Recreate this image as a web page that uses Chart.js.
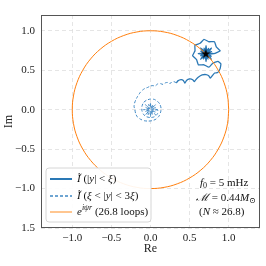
<!DOCTYPE html>
<html>
<head>
<meta charset="utf-8">
<script src="https://cdn.jsdelivr.net/npm/chart.js@4.4.0/dist/chart.umd.min.js"></script>
<style>
  body { margin: 0; background: #fff; }
</style>
</head>
<body>
<canvas id="chart" width="266" height="266"></canvas>
<script>
// Values (Re, Im pairs)

// unit circle e^{i psi r}
const circlePts = [
    [1, 0], [0.985, 0.174], [0.940, 0.342], [0.866, 0.5], [0.766, 0.643], [0.643, 0.766],
    [0.5, 0.866], [0.342, 0.940], [0.174, 0.985], [0, 1], [-0.174, 0.985], [-0.342, 0.940],
    [-0.5, 0.866], [-0.643, 0.766], [-0.766, 0.643], [-0.866, 0.5], [-0.940, 0.342], [-0.985, 0.174],
    [-1, 0], [-0.985, -0.174], [-0.940, -0.342], [-0.866, -0.5], [-0.766, -0.643], [-0.643, -0.766],
    [-0.5, -0.866], [-0.342, -0.940], [-0.174, -0.985], [0, -1], [0.174, -0.985], [0.342, -0.940],
    [0.5, -0.866], [0.643, -0.766], [0.766, -0.643], [0.866, -0.5], [0.940, -0.342], [0.985, -0.174],
    [1, 0]
];

// I~ for |y| < xi : star near (0.71, 0.71) and the scalloped trail
const innerPts = [
    [0.71, 0.71],
    [0.780, 0.736], [0.725, 0.724], [0.742, 0.778], [0.711, 0.730], [0.684, 0.780], [0.696, 0.725],
    [0.642, 0.742], [0.690, 0.711], [0.640, 0.684], [0.695, 0.696], [0.678, 0.642], [0.709, 0.690],
    [0.736, 0.640], [0.724, 0.695], [0.778, 0.678], [0.730, 0.709],
    [0.81, 0.71], [0.738, 0.721], [0.781, 0.781], [0.721, 0.738], [0.71, 0.81], [0.699, 0.738],
    [0.639, 0.781], [0.682, 0.721], [0.61, 0.71], [0.682, 0.699], [0.639, 0.639], [0.699, 0.682],
    [0.71, 0.61], [0.721, 0.682], [0.781, 0.639], [0.738, 0.699], [0.81, 0.71],
    [0.892, 0.746], [0.841, 0.796], [0.818, 0.862], [0.747, 0.861], [0.684, 0.892], [0.634, 0.841],
    [0.568, 0.818], [0.569, 0.747], [0.538, 0.684], [0.589, 0.634], [0.612, 0.568], [0.683, 0.569],
    [0.746, 0.538], [0.796, 0.589], [0.862, 0.612], [0.90, 0.58], [0.89, 0.52], [0.86, 0.47],
    [0.82, 0.465], [0.79, 0.43], [0.765, 0.40], [0.745, 0.43], [0.71, 0.445], [0.66, 0.44],
    [0.61, 0.41], [0.575, 0.375], [0.56, 0.355], [0.54, 0.38], [0.50, 0.39], [0.46, 0.37],
    [0.44, 0.335], [0.42, 0.37], [0.39, 0.38], [0.35, 0.365], [0.33, 0.34]
];

// I~ for xi < |y| < 3xi : spiral into the origin
const outerPts = [
    [0.33, 0.34], [0.30, 0.355], [0.27, 0.35], [0.25, 0.33], [0.22, 0.345], [0.19, 0.34],
    [0.16, 0.32], [0.13, 0.33], [0.09, 0.325], [0.06, 0.30], [0.03, 0.305], [0.0, 0.30],
    [-0.04, 0.28], [-0.07, 0.27], [-0.10, 0.25], [-0.13, 0.22], [-0.15, 0.19], [-0.17, 0.16],
    [-0.19, 0.12], [-0.205, 0.08], [-0.21, 0.04], [-0.20, 0.0], [-0.19, -0.05], [-0.17, -0.09],
    [-0.13, -0.12], [-0.08, -0.14], [-0.03, -0.145], [0.02, -0.14], [0.07, -0.12], [0.11, -0.08],
    [0.13, -0.03], [0.135, 0.02], [0.12, 0.07], [0.09, 0.105], [0.05, 0.13], [0.0, 0.135],
    [-0.05, 0.12], [-0.09, 0.09], [-0.11, 0.04], [-0.11, -0.01], [-0.09, -0.06], [-0.05, -0.09],
    [0.0, -0.10], [0.05, -0.09], [0.09, -0.05],
    [0.09, 0], [0.018, 0.008], [0.064, 0.064], [0.008, 0.018], [0, 0.09], [-0.008, 0.018],
    [-0.064, 0.064], [-0.018, 0.008], [-0.09, 0], [-0.018, -0.008], [-0.064, -0.064], [-0.008, -0.018],
    [0, -0.09], [0.008, -0.018], [0.064, -0.064], [0.018, -0.008], [0.09, 0],
    [0.066, 0.024], [0.015, 0.014], [0.030, 0.063], [0.001, 0.020], [-0.024, 0.066], [-0.014, 0.015],
    [-0.063, 0.030], [-0.020, 0.001], [-0.066, -0.024], [-0.015, -0.014], [-0.030, -0.063], [-0.001, -0.020],
    [0.024, -0.066], [0.014, -0.015], [0.063, -0.030], [0.020, -0.001], [0, 0]
];

// black star marker
const markerPts = [[0.707, 0.707]];

const xTicks = [-1.0, -0.5, 0.0, 0.5, 1.0];
const xTickLabels = ['\u22121.0', '\u22120.5', '0.0', '0.5', '1.0'];
const yTicks = [-1.5, -1.0, -0.5, 0.0, 0.5, 1.0];
const yTickLabels = ['1.5', '\u22121.0', '\u22120.5', '0.0', '0.5', '1.0'];

const SERIF = '"Liberation Serif", "DejaVu Serif", serif';
const BLUE = '#2a78b5';
const BLUE_DASH = '#3f88c4';
const ORANGE = '#ff7f0e';

function toXY(pts) {
    return pts.map(p => ({ x: p[0], y: p[1] }));
}

// little filled star for the marker
function makeStar(size) {
    const c = document.createElement('canvas');
    c.width = size; c.height = size;
    const g = c.getContext('2d');
    const cx = size / 2, cy = size / 2, ro = size / 2, ri = size / 5;
    g.beginPath();
    for (let i = 0; i < 10; i++) {
        const r = i % 2 === 0 ? ro : ri;
        const a = -Math.PI / 2 + i * Math.PI / 5;
        g.lineTo(cx + r * Math.cos(a), cy + r * Math.sin(a));
    }
    g.closePath();
    g.fillStyle = '#000';
    g.fill();
    return c;
}

// draw text made of runs with mixed styles
function drawRuns(ctx, runs, x, y) {
    runs.forEach(r => {
        const size = r.size || 11;
        ctx.font = (r.it ? 'italic ' : '') + size + 'px ' + SERIF;
        ctx.fillText(r.t, x, y + (r.dy || 0));
        x += ctx.measureText(r.t).width;
    });
    return x;
}

const legendRows = [
    { color: BLUE, width: 2, dash: [], runs: [
        { t: '\u0128', it: true }, { t: ' (|' }, { t: 'y', it: true }, { t: '| < ' }, { t: '\u03be', it: true }, { t: ')' }] },
    { color: BLUE_DASH, width: 1.5, dash: [3, 2], runs: [
        { t: '\u0128', it: true }, { t: ' (' }, { t: '\u03be', it: true }, { t: ' < |' }, { t: 'y', it: true },
        { t: '| < 3' }, { t: '\u03be', it: true }, { t: ')' }] },
    { color: '#ffb36b', width: 1.5, dash: [], runs: [
        { t: 'e', it: true }, { t: 'i\u03c8r', it: true, size: 8, dy: -4 }, { t: ' (26.8 loops)' }] }
];

const noteRows = [
    [{ t: 'f', it: true }, { t: '0', size: 8, dy: 3 }, { t: ' = 5 mHz' }],
    [{ t: '\u2133', it: true }, { t: ' = 0.44' }, { t: 'M', it: true }, { t: '\u2299', size: 8, dy: 3 }],
    [{ t: '(' }, { t: 'N', it: true }, { t: ' \u2248 26.8)' }]
];

const overlayPlugin = {
    id: 'overlay',
    afterDraw(chart) {
        const ctx = chart.ctx;
        const a = chart.chartArea;
        ctx.save();

        // frame
        ctx.strokeStyle = '#555';
        ctx.lineWidth = 1;
        ctx.strokeRect(a.left + 0.5, a.top + 0.5, a.right - a.left - 1, a.bottom - a.top - 1);

        // legend box
        const bx = 46, by = 168, bw = 105, bh = 54, rr = 3;
        ctx.beginPath();
        ctx.moveTo(bx + rr, by);
        ctx.arcTo(bx + bw, by, bx + bw, by + bh, rr);
        ctx.arcTo(bx + bw, by + bh, bx, by + bh, rr);
        ctx.arcTo(bx, by + bh, bx, by, rr);
        ctx.arcTo(bx, by, bx + bw, by, rr);
        ctx.closePath();
        ctx.fillStyle = 'rgba(255,255,255,0.92)';
        ctx.fill();
        ctx.strokeStyle = '#d6d6d6';
        ctx.lineWidth = 1;
        ctx.stroke();

        ctx.textBaseline = 'middle';
        ctx.fillStyle = '#111';
        const rowY = [179, 196, 212];
        legendRows.forEach((row, i) => {
            ctx.beginPath();
            ctx.strokeStyle = row.color;
            ctx.lineWidth = row.width;
            ctx.setLineDash(row.dash);
            ctx.moveTo(50, rowY[i]);
            ctx.lineTo(72, rowY[i]);
            ctx.stroke();
            ctx.setLineDash([]);
            ctx.fillStyle = '#111';
            drawRuns(ctx, row.runs, 77, rowY[i]);
        });

        // parameters text
        const noteX = [200, 196, 199];
        const noteY = [183, 198, 212];
        noteRows.forEach((runs, i) => drawRuns(ctx, runs, noteX[i], noteY[i]));

        ctx.restore();
    }
};

const ctx = document.getElementById('chart').getContext('2d');

new Chart(ctx, {
    type: 'scatter',
    data: {
        datasets: [
            {
                label: 'inner',
                data: toXY(innerPts),
                showLine: true,
                borderColor: BLUE,
                borderWidth: 1.3,
                tension: 0.1,
                pointRadius: 0,
                order: 2
            },
            {
                label: 'outer',
                data: toXY(outerPts),
                showLine: true,
                borderColor: BLUE_DASH,
                borderWidth: 1,
                borderDash: [3, 2],
                tension: 0.2,
                pointRadius: 0,
                order: 3
            },
            {
                label: 'circle',
                data: toXY(circlePts),
                showLine: true,
                borderColor: ORANGE,
                borderWidth: 1,
                tension: 0.4,
                pointRadius: 0,
                order: 1
            },
            {
                label: 'marker',
                data: toXY(markerPts),
                pointStyle: makeStar(10),
                pointRadius: 5,
                order: 0
            }
        ]
    },
    options: {
        responsive: false,
        animation: false,
        devicePixelRatio: 1,
        layout: { padding: { top: 15, right: 5, left: 0, bottom: 0 } },
        plugins: {
            legend: { display: false },
            tooltip: { enabled: false }
        },
        scales: {
            x: {
                type: 'linear',
                min: -1.4,
                max: 1.4,
                afterBuildTicks: s => { s.ticks = xTicks.map(v => ({ value: v })); },
                afterFit: s => { s.height = 38; },
                ticks: {
                    callback: (v, i) => xTickLabels[i],
                    font: { family: SERIF, size: 11 },
                    color: '#222',
                    padding: 4,
                    maxRotation: 0
                },
                grid: { color: '#dedede', lineWidth: 0.8, drawTicks: false },
                border: { display: false, dash: [4, 3] },
                title: {
                    display: true,
                    text: 'Re',
                    font: { family: SERIF, size: 12 },
                    color: '#222',
                    padding: { top: 0, bottom: 10 }
                }
            },
            y: {
                type: 'linear',
                min: -1.5,
                max: 1.2,
                afterBuildTicks: s => { s.ticks = yTicks.map(v => ({ value: v })); },
                afterFit: s => { s.width = 41; },
                ticks: {
                    callback: (v, i) => yTickLabels[i],
                    font: { family: SERIF, size: 11 },
                    color: '#222',
                    padding: 6
                },
                grid: { color: '#dedede', lineWidth: 0.8, drawTicks: false },
                border: { display: false, dash: [4, 3] },
                title: {
                    display: true,
                    text: 'Im',
                    font: { family: SERIF, size: 12 },
                    color: '#222',
                    padding: { top: 2, bottom: 0 }
                }
            }
        }
    },
    plugins: [overlayPlugin]
});
</script>
</body>
</html>
